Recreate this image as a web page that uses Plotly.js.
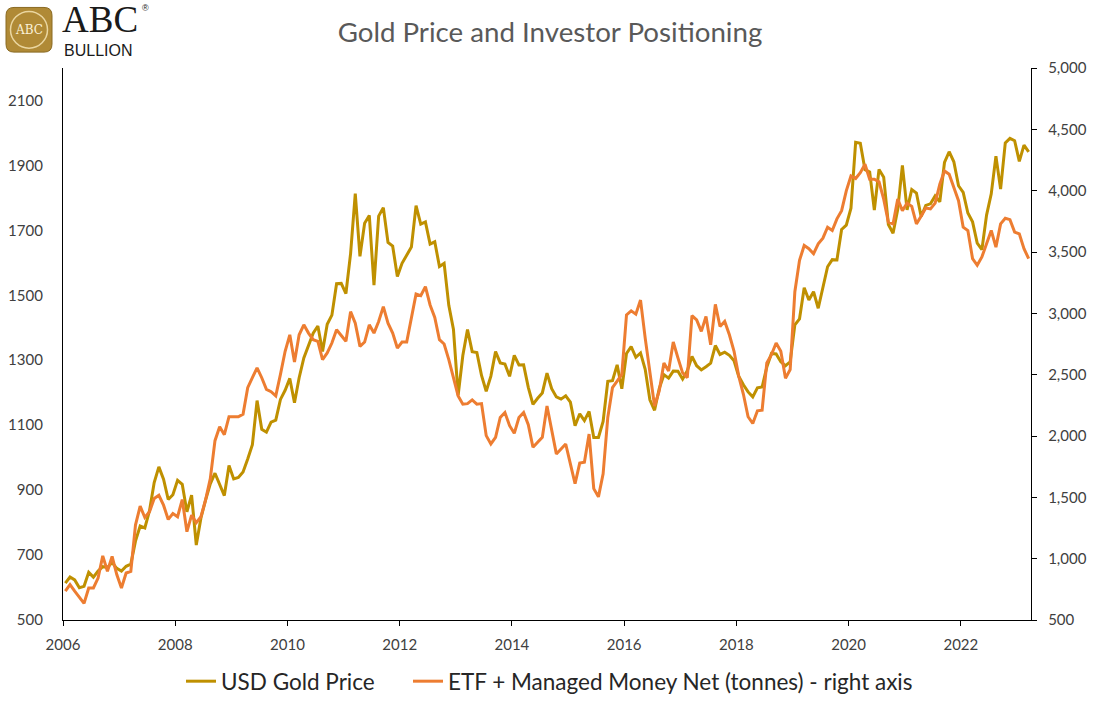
<!DOCTYPE html>
<html>
<head>
<meta charset="utf-8">
<script src="https://cdn.plot.ly/plotly-3.0.1.min.js"></script>
<style>
html,body{margin:0;padding:0;background:#fff;}
#chart{width:1100px;height:715px;}
</style>
</head>
<body>
<div id="chart"></div>
<script>
// Monthly observations (month-end), June 2006 – August 2023
const firstMonth = "2006-06";
const usdGoldPrice = [
  613.5, 632.5, 623.5, 599.25, 603.75, 646.7, 632,
  650.5, 664.2, 661.75, 677, 659.1, 650.5, 665.5, 672, 743, 789.5, 783.5, 836.5,
  923.25, 971.5, 933.5, 871, 885.75, 930.25, 918, 833, 884.5, 730.75, 814.5, 869.75,
  919.5, 952, 916.5, 883.25, 975.5, 934.5, 939, 955.5, 995.75, 1040, 1175.75, 1087.5,
  1078.5, 1109.5, 1115.5, 1179.25, 1207.5, 1244, 1169, 1246, 1307, 1346.75, 1383.5, 1405.5,
  1327, 1411, 1439, 1535.5, 1536.5, 1505.5, 1628.5, 1813.5, 1620, 1722, 1746, 1531,
  1744, 1770, 1662.5, 1651.25, 1558, 1598.5, 1622, 1648.5, 1776, 1719, 1726, 1657.5,
  1664.75, 1588.5, 1598.25, 1469, 1394.5, 1192, 1314.5, 1394.75, 1326.5, 1324, 1253, 1204.5,
  1251, 1326.5, 1291.75, 1288.5, 1250.5, 1315, 1285.25, 1285.75, 1216.5, 1164.25, 1182.75, 1199.25,
  1260.25, 1212.6, 1187, 1180.25, 1190.6, 1171, 1098.4, 1135, 1114, 1142.35, 1061.85, 1062.25,
  1111.8, 1234.9, 1237, 1285.65, 1212.1, 1320.75, 1342, 1309.25, 1322.5, 1272, 1178.1, 1145.9,
  1212.8, 1255.6, 1244.85, 1266.45, 1266.2, 1242.25, 1267.55, 1311.75, 1283.1, 1270.15, 1280.2, 1291,
  1345.15, 1317.85, 1324.65, 1315.05, 1298.5, 1250.45, 1224.3, 1202.45, 1187.25, 1214.95, 1217.55, 1279,
  1321, 1319.15, 1295.4, 1282.95, 1295.05, 1409, 1427.55, 1523, 1485.3, 1510.95, 1460, 1523,
  1587.9, 1609.85, 1608.95, 1702.75, 1715.9, 1768.1, 1971, 1968, 1886.9, 1879.9, 1762.6, 1887.6,
  1863.9, 1717.95, 1691.05, 1763.9, 1899.95, 1763.15, 1825.75, 1814.85, 1742.8, 1776.95, 1781.75, 1805.85,
  1788.15, 1908.9, 1942.15, 1911.3, 1837.4, 1817, 1753.4, 1726.1, 1660.6, 1640.7, 1746.9, 1812.35,
  1928.7, 1826.9, 1969.2, 1983.35, 1976.1, 1912.25, 1962.75, 1942
];
const etfManagedMoneyNet = [
  735, 789, 735, 680, 635, 761, 761,
  842, 1023, 897, 1018, 870, 761, 883, 897, 1274, 1428, 1336, 1382,
  1490, 1517, 1436, 1320, 1368, 1342, 1482, 1220, 1355, 1293, 1342, 1482,
  1652, 1962, 2076, 2011, 2157, 2157, 2157, 2178, 2394, 2475, 2556, 2475,
  2380, 2361, 2327, 2502, 2691, 2825, 2604, 2825, 2906, 2839, 2785, 2772,
  2623, 2677, 2758, 2866, 2820, 2772, 3014, 2920, 2731, 2766, 2906, 2839,
  2933, 3055, 2920, 2839, 2717, 2766, 2766, 2947, 3157, 3144, 3217, 3068,
  2966, 2785, 2750, 2623, 2480, 2327, 2259, 2264, 2294, 2259, 2264, 2003,
  1935, 1989, 2151, 2191, 2084, 2022, 2151, 2191, 2092, 1908, 1949, 1989,
  2245, 2043, 1854, 1894, 1935, 1773, 1611, 1779, 1787, 2016, 1571, 1504,
  1692, 2151, 2394, 2448, 2502, 2987, 3020, 2993, 3108, 2798, 2529, 2245,
  2367, 2596, 2529, 2766, 2637, 2515, 2475, 2982, 2947, 2853, 2974, 2744,
  3073, 2893, 2934, 2825, 2691, 2488, 2340, 2157, 2102, 2205, 2210, 2596,
  2663, 2758, 2691, 2470, 2542, 3176, 3432, 3553, 3527, 3486, 3567, 3613,
  3702, 3675, 3770, 3837, 3999, 4120, 4099, 4147, 4215, 4093, 4093, 4072,
  3931, 3743, 3729, 3931, 3837, 3899, 3872, 3729, 3791, 3859, 3851, 3899,
  4053, 4161, 4134, 4026, 3918, 3702, 3675, 3446, 3392, 3460, 3567, 3675,
  3540, 3729, 3775, 3764, 3662, 3648, 3527, 3446
];
const yearLabels = ["2006","2008","2010","2012","2014","2016","2018","2020","2022"];
const monthsPerLabel = 24;
const seriesNames = ["USD Gold Price", "ETF + Managed Money Net (tonnes) - right axis"];
const chartTitle = "Gold Price and Investor Positioning";

// month labels built from the first month
const months = usdGoldPrice.map((_, i) => {
  const [y0, m0] = firstMonth.split("-").map(Number);
  const t = y0 * 12 + (m0 - 1) + i;
  return Math.floor(t / 12) + "-" + String(t % 12 + 1).padStart(2, "0");
});
const xIdx = months.map((_, i) => i);
const tickVals = yearLabels.map((_, k) => k * monthsPerLabel - 0.5);

const FONT = "Lato, 'Open Sans', sans-serif";
const L = 63, T = 68, W = 968, H = 556;
const px = v => (v - L) / W;
const py = v => (T + H - v) / H;

function roundRect(x0, y0, x1, y1, r) {
  const X = px, Y = py;
  return `M${X(x0 + r)},${Y(y0)} L${X(x1 - r)},${Y(y0)} Q${X(x1)},${Y(y0)} ${X(x1)},${Y(y0 + r)} ` +
         `L${X(x1)},${Y(y1 - r)} Q${X(x1)},${Y(y1)} ${X(x1 - r)},${Y(y1)} ` +
         `L${X(x0 + r)},${Y(y1)} Q${X(x0)},${Y(y1)} ${X(x0)},${Y(y1 - r)} ` +
         `L${X(x0)},${Y(y0 + r)} Q${X(x0)},${Y(y0)} ${X(x0 + r)},${Y(y0)} Z`;
}

const traces = [
  {
    x: xIdx, y: usdGoldPrice, text: months, name: seriesNames[0],
    type: "scatter", mode: "lines", yaxis: "y", legend: "legend",
    line: {color: "#BF9000", width: 3},
    hovertemplate: "%{text}: %{y}<extra></extra>"
  },
  {
    x: xIdx, y: etfManagedMoneyNet, text: months, name: seriesNames[1],
    type: "scatter", mode: "lines", yaxis: "y2", legend: "legend2",
    line: {color: "#ED7D31", width: 3},
    hovertemplate: "%{text}: %{y}<extra></extra>"
  }
];

const legendBase = {
  orientation: "h", xanchor: "left", y: py(686), yanchor: "middle",
  font: {family: FONT, size: 22.5, color: "#262626"},
  itemwidth: 30, bgcolor: "rgba(0,0,0,0)"
};

const layout = {
  width: 1100, height: 715,
  margin: {l: L, r: 1100 - L - W, t: T, b: 715 - T - H, pad: 0},
  paper_bgcolor: "#fff", plot_bgcolor: "#fff",
  font: {family: FONT, color: "#404040"},
  title: {
    text: chartTitle, x: 0.5, xanchor: "center", y: 1 - 32 / 715, yanchor: "middle",
    font: {family: FONT, size: 27.7, color: "#595959"}
  },
  showlegend: true,
  legend: Object.assign({}, legendBase, {x: px(181)}),
  legend2: Object.assign({}, legendBase, {x: px(408)}),
  xaxis: {
    type: "linear", range: [-0.5, xIdx.length - 0.5],
    tickmode: "array", tickvals: tickVals, ticktext: yearLabels,
    showgrid: false, zeroline: false,
    showline: true, linecolor: "#000", linewidth: 1.3,
    ticks: "outside", ticklen: 5, tickcolor: "#000", tickwidth: 1.3,
    ticklabelstandoff: 6,
    tickfont: {family: FONT, size: 15, color: "#404040"}
  },
  yaxis: {
    range: [500, 2200], tick0: 500, dtick: 200, tickmode: "linear",
    showgrid: false, zeroline: false,
    showline: true, linecolor: "#000", linewidth: 1.3,
    ticks: "", ticklabelstandoff: 16,
    tickfont: {family: FONT, size: 15, color: "#404040"}
  },
  yaxis2: {
    range: [500, 5000], tick0: 500, dtick: 500, tickmode: "linear",
    overlaying: "y", side: "right", tickformat: ",d",
    showgrid: false, zeroline: false,
    showline: true, linecolor: "#000", linewidth: 1.3,
    ticks: "outside", ticklen: 5, tickcolor: "#000", tickwidth: 1.3,
    ticklabelstandoff: 8,
    tickfont: {family: FONT, size: 15, color: "#404040"}
  },
  shapes: [
    {type: "path", xref: "paper", yref: "paper", path: roundRect(6, 7, 52, 52, 8),
     fillcolor: "#B08A36", line: {color: "#8A6A22", width: 1}, layer: "above"},
    {type: "circle", xref: "paper", yref: "paper",
     x0: px(10.5), x1: px(47.5), y0: py(48), y1: py(11),
     fillcolor: "rgba(0,0,0,0)", line: {color: "#EAD6A0", width: 1.5}, layer: "above"}
  ],
  annotations: [
    {text: "ABC", xref: "paper", yref: "paper", x: px(29), y: py(30),
     xanchor: "center", yanchor: "middle", showarrow: false,
     font: {family: "'DejaVu Serif', 'Liberation Serif', serif", size: 12, color: "#FBF1D6"}},
    {text: "ABC", xref: "paper", yref: "paper", x: px(60), y: py(19.5),
     xanchor: "left", yanchor: "middle", showarrow: false,
     font: {family: "'Liberation Serif', serif", size: 37, color: "#1a1a1a"}},
    {text: "BULLION", xref: "paper", yref: "paper", x: px(62), y: py(50.5),
     xanchor: "left", yanchor: "middle", showarrow: false,
     font: {family: "'Liberation Sans', sans-serif", size: 16, color: "#1a1a1a"}},
    {text: "®", xref: "paper", yref: "paper", x: px(140), y: py(8),
     xanchor: "left", yanchor: "middle", showarrow: false,
     font: {family: "'Liberation Sans', sans-serif", size: 9, color: "#1a1a1a"}}
  ]
};

Plotly.newPlot("chart", traces, layout, {displayModeBar: false, responsive: false});
</script>
</body>
</html>
